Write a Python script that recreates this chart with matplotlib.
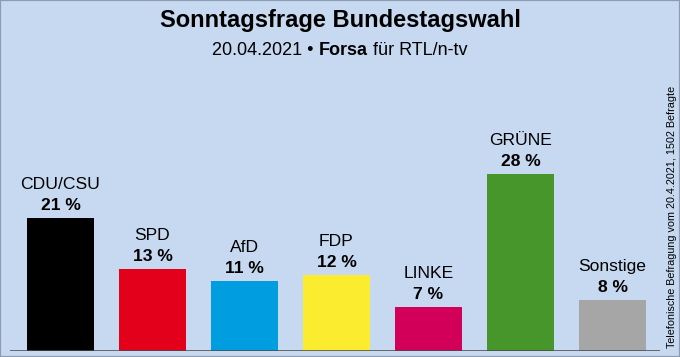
import matplotlib
matplotlib.use("Agg")
from matplotlib import pyplot as plt
from matplotlib.patches import Rectangle

# poll values (percent)
parties = ["CDU/CSU", "SPD", "AfD", "FDP", "LINKE", "GRÜNE", "Sonstige"]
values = [21, 13, 11, 12, 7, 28, 8]
colors = ["#000000", "#e3001b", "#009ee0", "#fcec2f", "#d3005a", "#46962b", "#a6a6a6"]

title = "Sonntagsfrage Bundestagswahl"
note = "Telefonische Befragung vom 20.4.2021, 1502 Befragte"

bg = "#c6d9f0"
W, H = 680, 357

plt.rcParams["font.family"] = ["Liberation Sans", "DejaVu Sans"]

fig = plt.figure(figsize=(W / 100, H / 100), dpi=100)
fig.patch.set_facecolor(bg)

# axes: baseline at y=351px, runs from x=10 to x=660
ax = fig.add_axes([10 / W, 6 / H, 650 / W, 345 / H])
ax.set_facecolor("none")
ax.bar(range(len(values)), values, width=67 / 92, color=colors)
ax.set_xlim(-50.5 / 92, 6 + 47.5 / 92)
ax.set_ylim(0, 345 / 6.33)
ax.axhline(0, color="#4a4a4a", lw=1.1)
ax.axis("off")

for i, (p, v) in enumerate(zip(parties, values)):
    ax.annotate(f"{v} %", (i, v), xytext=(0, 8), textcoords="offset pixels",
                ha="center", va="baseline", fontsize=12.6, fontweight="bold")
    ax.annotate(p, (i, v), xytext=(0, 29), textcoords="offset pixels",
                ha="center", va="baseline", fontsize=12.6)

fig.text(0.5, 1 - 27.3 / H, title, ha="center", va="baseline",
         fontsize=17, fontweight="bold")

# subtitle with bold "Forsa"
parts = [("20.04.2021 • ", "normal"), ("Forsa", "bold"), (" für RTL/n-tv", "normal")]
r = fig.canvas.get_renderer()
widths = []
for s, w in parts:
    t = fig.text(0, 0, s.replace(" ", "\u00a0"), fontsize=13, fontweight=w)
    widths.append(t.get_window_extent(r).width)
    t.remove()
x = W / 2 - sum(widths) / 2
for (s, w), wd in zip(parts, widths):
    fig.text(x / W, 1 - 55 / H, s.replace(" ", "\u00a0"), ha="left", va="baseline",
             fontsize=13, fontweight=w)
    x += wd

fig.text(672 / W, 1 - 348 / H, note, rotation=90, ha="center", va="bottom", fontsize=7.75)

fig.patches.append(Rectangle((0, 0), 1, 1, transform=fig.transFigure, fill=False,
                             ec="#8c9db3", lw=1.6))

fig.savefig("out.png", dpi=100, facecolor=bg)
